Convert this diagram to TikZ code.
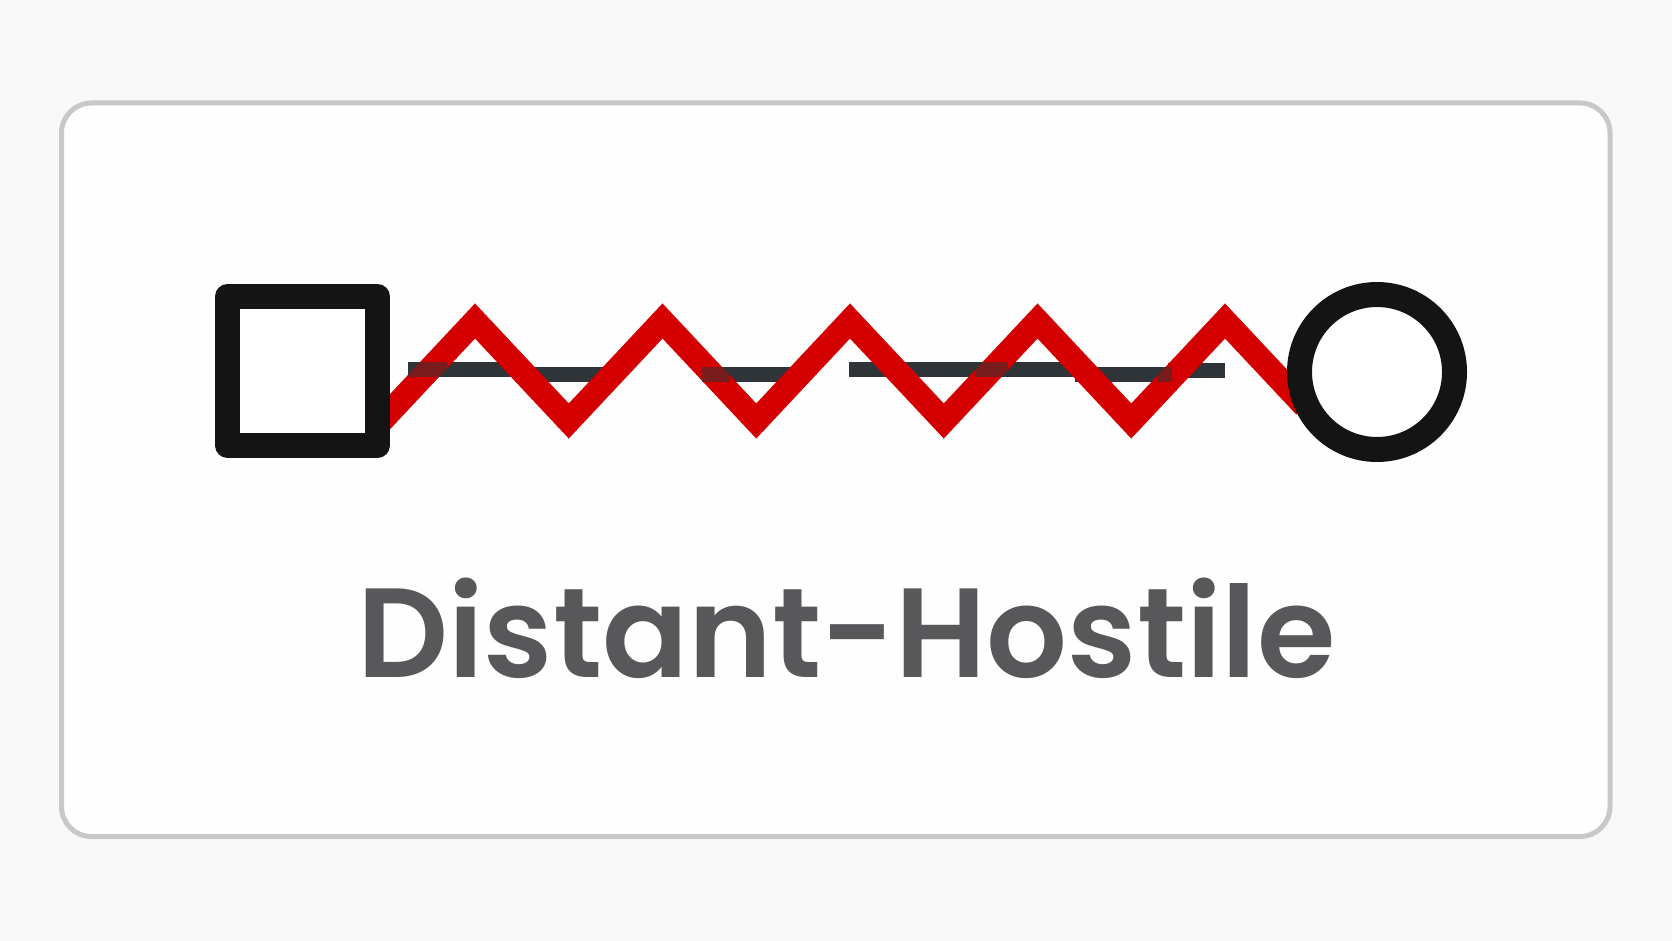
\documentclass[tikz,border=0pt]{standalone}
\usepackage{fontspec}
\setmainfont{Poppins}[UprightFont=* SemiBold]
\definecolor{bgout}{HTML}{F8F8F8}
\definecolor{bgin}{HTML}{FEFEFE}
\definecolor{framec}{HTML}{C8C8C8}
\definecolor{hostred}{HTML}{D40000}
\definecolor{distdark}{HTML}{2F3438}
\definecolor{symblack}{HTML}{141414}
\definecolor{labelgray}{HTML}{58585A}
\tikzset{
  symbol/.style={draw=symblack, line width=25, fill=white, inner sep=0pt, line join=round},
  hostile/.style={draw=hostred, line width=24, line join=miter},
  distant/.style={draw=distdark, line width=15},
  distmix/.style={draw=distdark, line width=15, draw opacity=0.55},
  panel/.style={draw=framec, line width=5, fill=bgin, rounded corners=30},
}
\begin{document}
\begin{tikzpicture}[x=1pt,y=-1pt]
\useasboundingbox[fill=bgout] (0,0) rectangle (1672,941);
\draw[panel] (61.5,103) rectangle (1610,836.5);
% distant (broken) line pieces
\coordinate (a1) at (408,369.5);  \coordinate (a2) at (515,369.5);
\coordinate (b1) at (515,374.5);  \coordinate (b2) at (612,374.5);
\coordinate (c1) at (702,374.5);  \coordinate (c2) at (795,374.5);
\coordinate (d1) at (849,369.5);  \coordinate (d2) at (1080,369.5);
\coordinate (e1) at (1075,374.5); \coordinate (e2) at (1172,374.5);
\coordinate (f1) at (1168,370);   \coordinate (f2) at (1225,370);
\draw[distant] (a1) -- (a2);
\draw[distant] (b1) -- (b2);
\draw[distant] (c1) -- (c2);
\draw[distant] (d1) -- (d2);
\draw[distant] (e1) -- (e2);
\draw[distant] (f1) -- (f2);
% hostile zigzag
\coordinate (z0) at (378,424.5);
\coordinate (p1) at (475,321);    \coordinate (v1) at (568.75,421);
\coordinate (p2) at (662.5,321);  \coordinate (v2) at (756.25,421);
\coordinate (p3) at (850,321);    \coordinate (v3) at (943.75,421);
\coordinate (p4) at (1037.5,321); \coordinate (v4) at (1131.25,421);
\coordinate (p5) at (1225,321);   \coordinate (z1) at (1305,406.3);
\draw[hostile] (z0) -- (p1) -- (v1) -- (p2) -- (v2) -- (p3) -- (v3) -- (p4) -- (v4) -- (p5) -- (z1);
% mixed overlaps
\coordinate (m1) at (447,369.5);
\coordinate (m2) at (730,374.5);
\coordinate (m3a) at (975,369.5); \coordinate (m3b) at (1008,369.5);
\coordinate (m4a) at (1157,374.5);
\draw[distmix] (a1) -- (m1);
\draw[distmix] (c1) -- (m2);
\draw[distmix] (m3a) -- (m3b);
\draw[distmix] (m4a) -- (e2);
% symbols
\node[symbol, rectangle, minimum width=150, minimum height=149] (sq) at (302.5,371) {};
\node[symbol, circle, minimum size=155] (ci) at (1377,372) {};
% label
\node[anchor=base, text=labelgray, inner sep=0pt, font=\fontsize{127}{150}\selectfont] (lbl) at (846.5,677) {Distant-Hostile};
\end{tikzpicture}
\end{document}
